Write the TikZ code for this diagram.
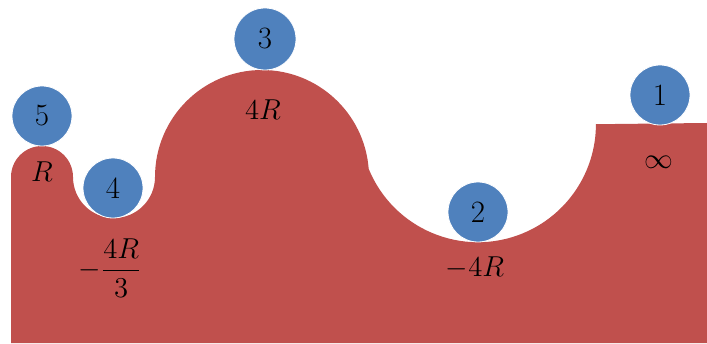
\documentclass[tikz,border=0pt]{standalone}
\usepackage{amsmath}
\usepackage{amssymb}
\usepackage{tikz}

\definecolor{ground}{HTML}{C0504D}
\definecolor{ballblue}{HTML}{4F81BD}

\begin{document}
\begin{tikzpicture}[
                x=0.5pt, y=0.5pt,
                every node/.style={font=\fontsize{14}{16}\selectfont, text=black},
                ball/.style={circle, fill=ballblue, draw=white, line width=0.4pt, minimum size=30pt, inner sep=0pt, font=\fontsize{15.5}{17}\selectfont},
                lbl/.style={inner sep=0pt}
            ]
                \useasboundingbox (0,0) rectangle (707,343);
                % track
                \fill[ground] (11,0) -- (11,166)
                    arc[start angle=180, end angle=0, radius=31]
                    arc[start angle=180, end angle=360, radius=41]
                    arc[start angle=180, end angle=4.4, radius=107]
                    arc[start angle=202.2, end angle=360, radius=118]
                    -- (707,220) -- (707,0) -- cycle;
                % balls
                \node[ball] (b1) at (660,248) {1};
                \node[ball] (b2) at (478,131) {2};
                \node[ball, minimum size=31pt] (b3) at (265,304) {3};
                \node[ball] (b4) at (113,155) {4};
                \node[ball] (b5) at (42,227) {5};
                % heights
                \node[lbl] (h1) at (659,181) {$\infty$};
                \node[lbl] (h2) at (475,75) {$-4R$};
                \node[lbl] (h3) at (263,233) {$4R$};
                \node[lbl] (h4) at (110,75) {$-\dfrac{4R}{3}$};
                \node[lbl] (h5) at (42,171) {$R$};
            \end{tikzpicture}
\end{document}
